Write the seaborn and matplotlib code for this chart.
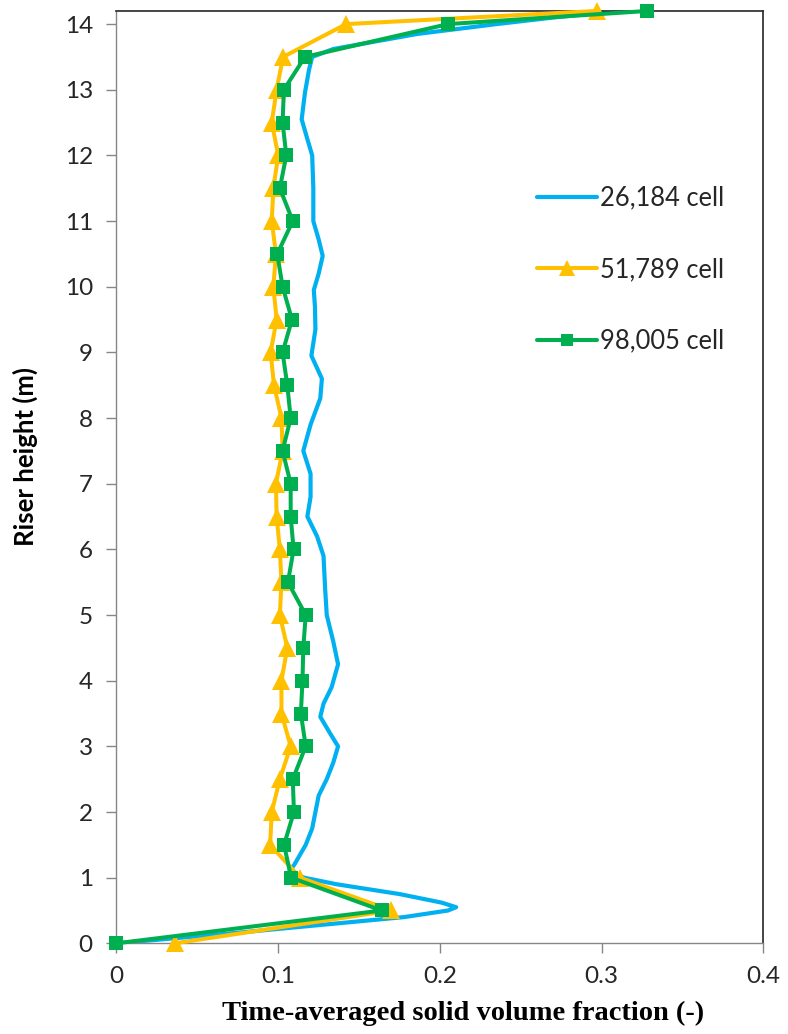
import matplotlib
matplotlib.use("Agg")
import matplotlib.pyplot as plt
import seaborn as sns
import pandas as pd

# Riser height (m) at which the marked series were sampled
heights = [0, 0.5, 1.0, 1.5, 2.0, 2.5, 3.0, 3.5, 4.0, 4.5, 5.0, 5.5, 6.0, 6.5, 7.0,
           7.5, 8.0, 8.5, 9.0, 9.5, 10.0, 10.5, 11.0, 11.5, 12.0, 12.5, 13.0,
           13.5, 14.0, 14.2]

# 51,789-cell mesh
frac_51789 = [0.036, 0.170, 0.1135, 0.095, 0.096, 0.101, 0.1077, 0.102, 0.102,
              0.1056, 0.101, 0.102, 0.101, 0.099, 0.0986, 0.1027, 0.102, 0.0974,
              0.0953, 0.099, 0.097, 0.0986, 0.096, 0.097, 0.100, 0.096, 0.099,
              0.103, 0.142, 0.297]

# 98,005-cell mesh
frac_98005 = [0.0, 0.164, 0.108, 0.1036, 0.1097, 0.109, 0.117, 0.114, 0.115,
              0.1155, 0.117, 0.106, 0.1095, 0.1077, 0.1077, 0.1027, 0.1077,
              0.1056, 0.1027, 0.1085, 0.1027, 0.0994, 0.109, 0.101, 0.105,
              0.1027, 0.1035, 0.1165, 0.205, 0.328]

# 26,184-cell mesh (finer output, drawn without markers)
heights_26184 = [0, 0.15, 0.3, 0.4, 0.5, 0.55, 0.62, 0.75, 0.9, 1.0, 1.1, 1.2,
                 1.5, 1.75, 2.0, 2.25, 2.5, 2.75, 3.0, 3.2, 3.45, 3.65, 3.9,
                 4.25, 4.6, 5.0, 5.4, 5.9, 6.2, 6.5, 6.8, 7.15, 7.5, 7.9, 8.3,
                 8.6, 8.95, 9.35, 9.7, 9.95, 10.2, 10.47, 10.72, 11.0, 11.5,
                 12.0, 12.25, 12.55, 12.95, 13.3, 13.5, 13.62, 13.85, 14.0,
                 14.1, 14.2]
frac_26184 = [0.0, 0.07, 0.135, 0.178, 0.205, 0.210, 0.201, 0.175, 0.136, 0.116,
              0.107, 0.110, 0.117, 0.121, 0.123, 0.125, 0.130, 0.134, 0.137,
              0.132, 0.126, 0.128, 0.133, 0.137, 0.134, 0.130, 0.129, 0.128,
              0.124, 0.118, 0.120, 0.120, 0.1155, 0.120, 0.126, 0.127, 0.1205,
              0.123, 0.1227, 0.122, 0.125, 0.1275, 0.125, 0.1217, 0.1217,
              0.121, 0.118, 0.1145, 0.1165, 0.119, 0.121, 0.134, 0.186, 0.235,
              0.27, 0.31]

series_labels = ["26,184 cell", "51,789 cell", "98,005 cell"]
x_ticks = [0, 0.1, 0.2, 0.3, 0.4]
x_tick_labels = ["0", "0.1", "0.2", "0.3", "0.4"]
y_ticks = list(range(0, 15))

df_26184 = pd.DataFrame({"frac": frac_26184, "h": heights_26184})
df_51789 = pd.DataFrame({"frac": frac_51789, "h": heights})
df_98005 = pd.DataFrame({"frac": frac_98005, "h": heights})

sns.set_style("ticks")
plt.rcParams["font.family"] = ["Lato", "DejaVu Sans"]

fig = plt.figure(figsize=(7.88, 10.34), dpi=100)
ax = fig.add_axes([0.1478, 0.0877, 0.8211, 0.9017])

common = dict(x="frac", y="h", orient="y", sort=False, estimator=None, ax=ax,
              solid_joinstyle="round", solid_capstyle="round")
sns.lineplot(data=df_26184, color="#00B0F0", linewidth=3.0,
             label=series_labels[0], zorder=2, **common)
sns.lineplot(data=df_51789, color="#FFC000", linewidth=2.9, marker="^",
             markersize=13, markeredgewidth=0, label=series_labels[1],
             zorder=3, clip_on=False, **common)
sns.lineplot(data=df_98005, color="#00B050", linewidth=2.9, marker="s",
             markersize=10.5, markeredgewidth=0, label=series_labels[2],
             zorder=4, clip_on=False, **common)

ax.set_xlim(0, 0.4)
ax.set_ylim(0, 14.2)
ax.set_xticks(x_ticks)
ax.set_xticklabels(x_tick_labels)
ax.set_yticks(y_ticks)

for side in ("left", "bottom"):
    ax.spines[side].set_color("#868686")
    ax.spines[side].set_linewidth(1.0)
for side in ("top", "right"):
    ax.spines[side].set_visible(True)
    ax.spines[side].set_color("#262626")
    ax.spines[side].set_linewidth(1.2)

ax.tick_params(axis="both", which="major", direction="out", length=7,
               width=1.0, color="#868686", labelsize=17.5, labelcolor="#262626")
ax.tick_params(axis="y", pad=10)
ax.tick_params(axis="x", pad=9)

ax.set_xlabel("Time-averaged solid volume fraction (-)", fontsize=20.5,
              fontweight="bold", family=["Liberation Serif", "DejaVu Serif"],
              color="black")
ax.xaxis.set_label_coords(0.5355, -0.062)
ax.set_ylabel("Riser height (m)", fontsize=18.5, fontweight="bold",
              color="black")
ax.yaxis.set_label_coords(-0.122, 0.522)

leg = ax.legend(loc="upper left", bbox_to_anchor=(0.65, 0.8125), frameon=False,
                fontsize=18.4, handlelength=2.35, handletextpad=0.12,
                labelspacing=1.82, borderpad=0, borderaxespad=0, numpoints=1,
                markerscale=0.85)
for t in leg.get_texts():
    t.set_color("#262626")

fig.savefig("out.png", dpi=100, facecolor="white")
